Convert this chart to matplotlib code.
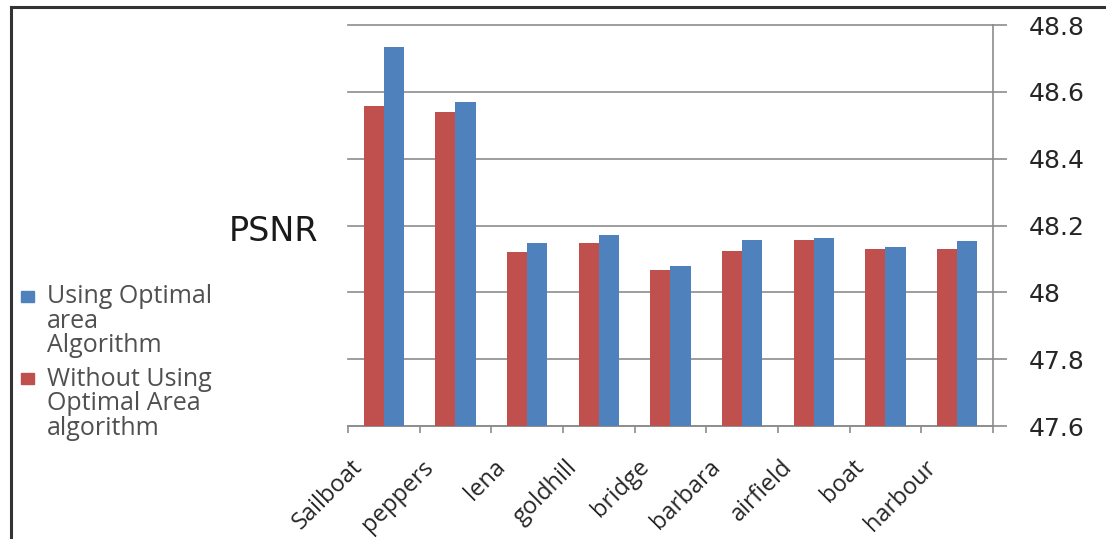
# PSNR with / without the optimal area algorithm, grouped bars, y axis on the right

import matplotlib
matplotlib.use("Agg")
import matplotlib.pyplot as plt
from matplotlib.lines import Line2D
from matplotlib.patches import Rectangle
from matplotlib.transforms import ScaledTranslation
import numpy as np

images = ["Sailboat", "peppers", "lena", "goldhill", "bridge",
          "barbara", "airfield", "boat", "harbour"]
psnr_without = [48.559, 48.541, 48.120, 48.149, 48.067, 48.124, 48.158, 48.130, 48.130]
psnr_with = [48.735, 48.571, 48.149, 48.172, 48.079, 48.158, 48.164, 48.136, 48.153]
label_with = "Using Optimal\narea\nAlgorithm"
label_without = "Without Using\nOptimal Area\nalgorithm"
yticks = [47.6, 47.8, 48.0, 48.2, 48.4, 48.6, 48.8]
ytick_labels = ["47.6", "47.8", "48", "48.2", "48.4", "48.6", "48.8"]

red = "#C0504D"
blue = "#4F81BD"
grid_col = "#8C8C8C"

fig = plt.figure(figsize=(11.06, 5.39), dpi=100)
ax = fig.add_axes([0.3146, 0.2096, 0.5832, 0.744])

x = np.arange(len(images))
w = 0.28
b1 = ax.bar(x - w / 2, psnr_without, w, color=red, zorder=3)
b2 = ax.bar(x + w / 2, psnr_with, w, color=blue, zorder=3)

ax.set_xlim(-0.5, len(images) - 0.5)
ax.set_ylim(47.6, 48.8)

# grid lines drawn by hand so the top one is not clipped
for t in yticks:
    ax.axhline(t, color=grid_col, lw=1.2, zorder=1, clip_on=False)

for s in ["top", "left"]:
    ax.spines[s].set_visible(False)
for s in ["bottom", "right"]:
    ax.spines[s].set_color(grid_col)
    ax.spines[s].set_linewidth(1.2)

ax.yaxis.tick_right()
ax.set_yticks(yticks)
ax.set_yticklabels(ytick_labels, fontsize=18, color="#262626", family="DejaVu Sans")
ax.tick_params(axis="y", direction="out", length=10, width=1.2, color=grid_col, pad=16)

ax.set_xticks(x)
ax.set_xticklabels(images, rotation=45, ha="right", va="center", rotation_mode="anchor",
                   fontsize=17, color="#262626", family="Open Sans")
ax.tick_params(axis="x", length=0, pad=27)
shift = ScaledTranslation(-0.25, 0, fig.dpi_scale_trans)
for lab in ax.get_xticklabels():
    lab.set_transform(lab.get_transform() + shift)
ax.set_xticks(np.arange(len(images) + 1) - 0.5, minor=True)
ax.tick_params(axis="x", which="minor", direction="out", length=5, width=1.2, color=grid_col)

fig.text(0.2875, 0.57, "PSNR", fontsize=24, color="#1a1a1a", ha="right", va="center",
         family="DejaVu Sans")

# legend, drawn by hand so the key sits beside the first line of each label
W, H = 1106.0, 539.0
for lab, col, yc, ysq in [(label_with, blue, 321, 296), (label_without, red, 404, 378)]:
    fig.text(47 / W, 1 - yc / H, lab, fontsize=18, color="#505050", ha="left",
             va="center", family="Open Sans", linespacing=0.98)
    fig.add_artist(Rectangle((21 / W, 1 - (ysq + 5.5) / H), 13 / W, 11 / H,
                             transform=fig.transFigure, color=col))

# frame lines of the original screenshot
fig.add_artist(Line2D([0.0095, 0.0095], [0, 0.987], color="#333333", lw=2.2))
fig.add_artist(Line2D([0.0095, 1.0], [0.987, 0.987], color="#333333", lw=2.2))

fig.savefig("out.png", dpi=100, facecolor="white")
